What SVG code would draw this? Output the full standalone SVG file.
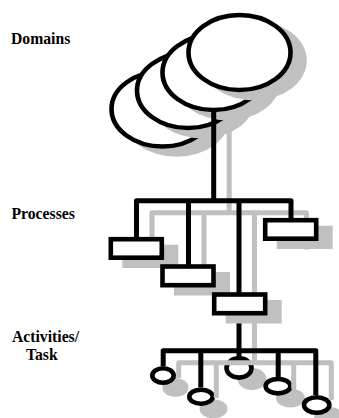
<svg xmlns="http://www.w3.org/2000/svg" width="339" height="418" viewBox="0 0 339 418">
<style>
.sh{fill:#c0c0c0;stroke:none}
.shape{fill:#fff;stroke:#000;stroke-width:4.6}
.con{fill:none;stroke:#000;stroke-width:5;stroke-linejoin:round}
.conSh{fill:none;stroke:#c0c0c0;stroke-width:5;stroke-linejoin:round}
</style>
<rect width="339" height="418" fill="#fff"/>
<g id="labels" font-family="Liberation Serif" font-weight="bold" font-size="15.7" fill="#000">
<text x="11" y="43.5">Domains</text>
<text x="11.5" y="219">Processes</text>
<text x="12" y="342">Activities/</text>
<text x="26" y="360">Task</text>
</g>

<g id="domains">
  <ellipse class="sh" cx="176.5" cy="117" rx="53.3" ry="39.8"/>
  <ellipse class="shape" cx="162.5" cy="109" rx="51" ry="37.5"/>
  <ellipse class="sh" cx="202" cy="98.5" rx="53.3" ry="39.8"/>
  <ellipse class="shape" cx="188" cy="90.5" rx="51" ry="37.5"/>
  <ellipse class="sh" cx="227.5" cy="80.5" rx="53.3" ry="39.8"/>
  <ellipse class="shape" cx="213.5" cy="72.5" rx="51" ry="37.5"/>
  <ellipse class="sh" cx="253.5" cy="60.5" rx="53.3" ry="39.8"/>
  <ellipse class="shape" cx="239.5" cy="52.5" rx="51" ry="37.5"/>
</g>

<g id="connectors-top">
  <path class="conSh" d="M229.2 118V212.8M152 250V212.8H306.5V249.5M204 212.8V280M254.5 212.8V310M254.5 310V362.8"/>
  <path class="con" d="M213.7 109V200.8M136.5 245V200.8H291V228M188.5 200.8V275M239 200.8V350.8"/>
</g>

<g id="process-shadows">
  <rect class="sh" x="122.3" y="244.7" width="56" height="23.3"/>
  <rect class="sh" x="174" y="272" width="56" height="23.5"/>
  <rect class="sh" x="225.7" y="300" width="56" height="23.5"/>
  <rect class="sh" x="276.7" y="225.7" width="56" height="23.3"/>
</g>
<g id="process-1"><rect class="shape" x="110.8" y="239.2" width="51" height="18.5"/></g>
<g id="process-2"><rect class="shape" x="162.5" y="266.5" width="51" height="18.7"/></g>
<g id="process-3"><rect class="shape" x="214.2" y="294.5" width="51" height="18.7"/></g>
<g id="process-4"><rect class="shape" x="265.2" y="220.2" width="51" height="18.5"/></g>

<g id="activity-shadows">
  <ellipse class="sh" cx="175.5" cy="387.5" rx="13" ry="9.5"/>
  <ellipse class="sh" cx="213.5" cy="408.7" rx="14" ry="9.5"/>
  <ellipse class="sh" cx="252" cy="379" rx="14.5" ry="11"/>
  <ellipse class="sh" cx="290.5" cy="398" rx="14.5" ry="9.5"/>
  <ellipse class="sh" cx="329.2" cy="417" rx="15" ry="10"/>
</g>
<g id="activity-1"><ellipse class="shape" cx="163" cy="375.5" rx="10.7" ry="7.2"/></g>
<g id="activity-2"><ellipse class="shape" cx="201" cy="396.7" rx="11.7" ry="7"/></g>
<g id="activity-3"><ellipse class="shape" cx="239" cy="368" rx="12.5" ry="9.6"/></g>
<g id="activity-4"><ellipse class="shape" cx="278" cy="386.2" rx="12.4" ry="7.2"/></g>
<g id="activity-5"><ellipse class="shape" cx="316.7" cy="405" rx="12.7" ry="7.7"/></g>

<g id="connectors-bottom">
  <path class="conSh" d="M178.7 378V362.8H331.3V400M216.3 362.8V398M293.7 362.8V389"/>
  <path class="con" d="M163.2 366V350.8H315.8V395M200.8 350.8V387.5M239 350.8V357M278.2 350.8V377"/>
</g>
</svg>
